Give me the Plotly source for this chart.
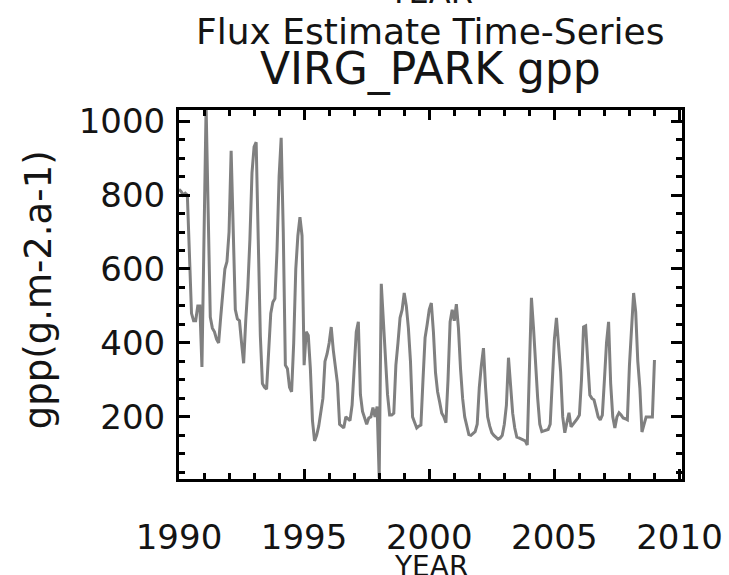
import plotly.graph_objects as go

# Monthly GPP values, Jan 1990 onward
gpp = [
    815, 810, 800, 805, 800, 640, 480, 460, 460, 500, 500, 335,
    680, 1040, 750, 470, 440, 430, 410, 400, 470, 530, 600, 620,
    700, 920, 720, 490, 465, 460, 400, 345, 460, 550, 680, 860,
    930, 943, 680, 420, 290, 280, 275, 370, 480, 510, 520, 650,
    850, 955, 700, 340, 330, 280, 268, 400, 600, 690, 740, 690,
    340, 430, 420, 330, 190, 135, 150, 175, 215, 250, 350, 370,
    400, 443, 380, 340, 290, 180, 175, 170, 200, 195, 190, 232,
    340, 430, 457, 260, 215, 200, 180, 197, 200, 225, 200, 228,
    35, 560, 450, 330, 260, 205, 205, 210, 340, 400, 468, 490,
    535, 500, 440, 350, 200, 185, 170, 175, 178, 300, 414, 450,
    490, 508, 430, 320, 268, 240, 210, 200, 184, 300, 457, 490,
    460, 505, 440, 330, 250, 200, 178, 152, 150, 155, 160, 180,
    280, 340, 386, 280, 200, 175, 157, 150, 146, 140, 143, 150,
    180, 232, 360, 290, 210, 170, 145, 143, 140, 138, 135, 124,
    300, 522, 440, 330, 250, 180, 160, 162, 165, 166, 180, 300,
    410, 468, 400, 322, 200, 157, 185, 211, 173, 180, 187, 195,
    205, 300, 443, 446, 350, 259, 250, 246, 224, 200, 192, 205,
    300, 400, 457, 290, 200, 170, 200, 211, 205, 197, 195, 192,
    340, 450, 535, 484, 350, 278, 159, 180, 200, 200, 200, 200,
    354,
]
start_year = 1990
years = [start_year + i / 12 for i in range(len(gpp))]

x_ticks = [1990, 1995, 2000, 2005, 2010]
y_ticks = [200, 400, 600, 800, 1000]

FONT = "DejaVu Sans, Liberation Sans, sans-serif"
TXT = "rgb(20,20,20)"

fig = go.Figure()
fig.add_trace(go.Scatter(
    x=years, y=gpp, mode="lines",
    line=dict(color="rgb(128,128,128)", width=3),
    hoverinfo="skip", showlegend=False,
))

axis_common = dict(
    showline=True, linecolor="black", linewidth=3,
    mirror="ticks", ticks="inside", tickcolor="black", tickwidth=3,
    showgrid=False, zeroline=False, automargin=False,
    tickfont=dict(family=FONT, size=34, color=TXT),
)

fig.update_xaxes(
    **axis_common,
    range=[1990, 2010.1],
    tickmode="array", tickvals=x_ticks, ticktext=[str(v) for v in x_ticks],
    ticklen=10,
    ticklabelstandoff=26,
    minor=dict(dtick=1, tick0=1990, ticks="inside", ticklen=6, tickwidth=3, tickcolor="black", showgrid=False),
)
fig.update_yaxes(
    **axis_common,
    range=[32, 1030],
    tickmode="array", tickvals=y_ticks, ticktext=[str(v) for v in y_ticks],
    ticklen=11,
    ticklabelstandoff=4,
    minor=dict(dtick=50, tick0=0, ticks="inside", ticklen=6, tickwidth=3, tickcolor="black", showgrid=False),
)

annotations = [
    dict(text="YEAR", x=0.5, y=1.262, xref="paper", yref="paper",
         xanchor="center", yanchor="bottom", showarrow=False,
         font=dict(family=FONT, size=32, color=TXT)),
    dict(text="Flux Estimate Time-Series", x=0.5, y=1.213, xref="paper", yref="paper",
         xanchor="center", yanchor="middle", showarrow=False,
         font=dict(family=FONT, size=36, color=TXT)),
    dict(text="VIRG_PARK gpp", x=0.5, y=1.11, xref="paper", yref="paper",
         xanchor="center", yanchor="middle", showarrow=False,
         font=dict(family=FONT, size=44, color=TXT)),
    dict(text="YEAR", x=0.5, y=-0.236, xref="paper", yref="paper",
         xanchor="center", yanchor="middle", showarrow=False,
         font=dict(family=FONT, size=28, color=TXT)),
    dict(text="gpp(g.m-2.a-1)", x=-0.28, y=0.512, xref="paper", yref="paper",
         xanchor="center", yanchor="middle", showarrow=False, textangle=-90,
         font=dict(family=FONT, size=37, color=TXT)),
]

fig.update_layout(
    width=729, height=575,
    margin=dict(l=179, r=47, t=110, b=96),
    paper_bgcolor="white", plot_bgcolor="white",
    annotations=annotations,
)

fig.write_html("out.html")
